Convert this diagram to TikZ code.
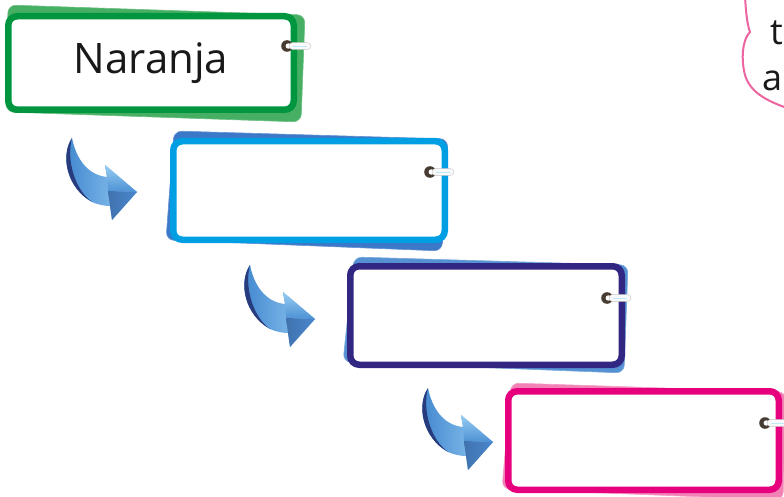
\documentclass[tikz,border=0pt]{standalone}
\usepackage{fontspec}
\setmainfont{Open Sans}
\definecolor{cgreen}{RGB}{0,150,64}
\definecolor{cgreenb}{RGB}{70,175,100}
\definecolor{cblue}{RGB}{0,158,226}
\definecolor{cblueb}{RGB}{60,120,200}
\definecolor{cpurple}{RGB}{49,39,131}
\definecolor{cpurpleb}{RGB}{85,145,210}
\definecolor{cpink}{RGB}{230,0,126}
\definecolor{cpinkb}{RGB}{242,130,182}
\definecolor{cloudpink}{RGB}{236,100,160}
\definecolor{ringdark}{RGB}{70,60,50}
\definecolor{arrA}{RGB}{60,130,205}
\definecolor{arrB}{RGB}{150,205,242}
\definecolor{arrC}{RGB}{75,135,205}
\definecolor{arrD}{RGB}{40,60,125}
\tikzset{
  card/.style={draw=#1, line width=6.5pt, fill=white, rounded corners=9pt, inner sep=0pt,
    font=\fontsize{42}{50}\selectfont, text=black!90},
  backcard/.style={fill=#1, draw=#1!80!white, line width=0.6pt, rounded corners=8pt},
  ring/.pic={
    \fill[ringdark] (0,0) circle (5.8);
    \fill[white] (1.3,0) circle (2.7);
    \draw[gray!45, fill=gray!5, rounded corners=3.4pt] (2,-3.4) rectangle (24,3.4);
    \draw[cyan!25, line width=0.8pt] (6,0) -- (20,0);
  },
  curl/.pic={
    \shade[left color=arrA, right color=arrB] (0,0) .. controls (-12,18) and (-5,50) .. (20,64)
      .. controls (27,67) and (33,68) .. (38,68) -- (40,82) -- (65,54) -- (33,27) -- (35,39)
      .. controls (15,37) and (4,20) .. (0,0) -- cycle;
    \shade[top color=arrB, bottom color=arrA!80!arrB] (33,27) -- (65,54) -- (36,53) -- (35,39) -- cycle;
    \shade[left color=arrC!85!black, right color=arrC] (36,53) -- (65,54) -- (40,82) -- (38,68) -- cycle;
    \fill[arrD] (0,0) .. controls (-12,18) and (-5,50) .. (20,64)
      .. controls (3,52) and (-6,22) .. (0,0) -- cycle;
  },
  cloudtext/.style={font=\fontsize{36}{44}\selectfont, text=black!90, inner sep=0pt, anchor=base west}
}
\begin{document}
\begin{tikzpicture}[x=1pt,y=-1pt]
\useasboundingbox (0,0) rectangle (784,497);
\fill[white] (0,0) rectangle (784,497);

% cloud at top right
\draw[cloudpink, line width=2pt] (745,-3) .. controls (746,12) and (747,24) .. (750,32)
  .. controls (742,40) and (741,60) .. (745,75) .. controls (750,92) and (766,101) .. (790,109);
\node[cloudtext] (ct1) at (770,45) {t};
\node[cloudtext] (ct2) at (762,91) {a};

% card 1
\draw[backcard=cgreenb] (8,5) -- (305,15) -- (301,122) -- (6,112) -- cycle;
\node[card=cgreen, minimum width=285.5pt, minimum height=93.5pt] (c1) at (151,63) {Naranja};
\pic at (287,46) {ring};

% card 2
\draw[backcard=cblueb] (174,131) -- (448,139) -- (442,251) -- (166,240) -- cycle;
\node[card=cblue, minimum width=271.5pt, minimum height=98.5pt] (c2) at (309,190.5) {};
\pic at (430,172) {ring};

% card 3
\draw[backcard=cpurpleb] (354,257) -- (628,265) -- (624,373) -- (343,362) -- cycle;
\node[card=cpurple, minimum width=271.5pt, minimum height=98.5pt] (c3) at (486,315.5) {};
\pic at (607,298) {ring};

% card 4
\draw[backcard=cpinkb] (511,383) -- (786,392) -- (783,500) -- (502,489) -- cycle;
\node[card=cpink, minimum width=270.5pt, minimum height=98.5pt] (c4) at (643.5,440.5) {};
\pic at (765,423) {ring};

% arrows
\pic at (72,138) {curl};
\pic at (250,265) {curl};
\pic at (428,388) {curl};
\end{tikzpicture}
\end{document}
